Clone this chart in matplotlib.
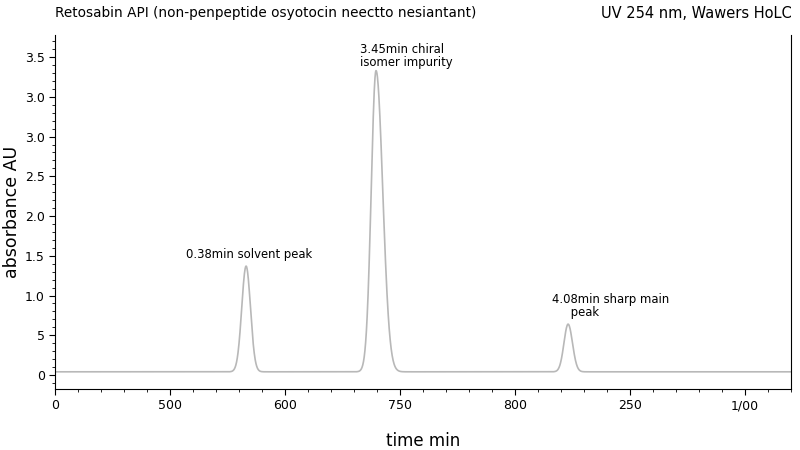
import numpy as np
from matplotlib import pyplot as plt
from matplotlib.ticker import MultipleLocator

# peak centres (axis units), heights (AU), left/right widths
peak_pos = [1.66, 2.79, 4.46]
peak_height = [1.33, 3.79, 0.60]
peak_sig_left = [0.038, 0.042, 0.036]
peak_sig_right = [0.038, 0.058, 0.038]
baseline = 0.04

peak_labels = ["0.38min solvent peak", "3.45min chiral\nisomer impurity",
               "4.08min sharp main\n     peak"]

xtick_pos = [0, 1, 2, 3, 4, 5, 6]
xtick_labels = ["0", "500", "600", "750", "800", "250", "1/00"]
ytick_pos = [0, 0.5, 1.0, 1.5, 2.0, 2.5, 3.0, 3.5, 4.0]
ytick_labels = ["0", "5", "1.0", "1.5", "2.0", "2.5", "3.0", "3.0", "3.5"]

t = np.linspace(0, 6.4, 3000)
y = np.full_like(t, baseline)
for p, h, sl, sr in zip(peak_pos, peak_height, peak_sig_left, peak_sig_right):
    s = np.where(t < p, sl, sr)
    y += h * np.exp(-0.5 * ((t - p) / s) ** 2)

fig = plt.figure(figsize=(8, 4.5), dpi=100)
ax = fig.add_axes([0.069, 0.1356, 0.92, 0.787])
ax.plot(t, y, color="#b8b8b8", lw=1.2)

ax.set_xlim(0, 6.4)
ax.set_ylim(-0.176, 4.28)
ax.spines["top"].set_visible(False)
ax.set_xticks(xtick_pos)
ax.set_xticklabels(xtick_labels)
ax.set_yticks(ytick_pos)
ax.set_yticklabels(ytick_labels)
ax.xaxis.set_minor_locator(MultipleLocator(0.2))
ax.yaxis.set_minor_locator(MultipleLocator(0.1))
ax.tick_params(which="major", length=4, labelsize=9)
ax.tick_params(which="minor", length=2)
ax.set_xlabel("time min", fontsize=12, labelpad=14)
ax.set_ylabel("absorbance AU", fontsize=12.5, labelpad=3)

ax.text(1.69, 1.43, peak_labels[0], ha="center", va="bottom", fontsize=8.4)
ax.text(2.65, 3.85, peak_labels[1], ha="left", va="bottom", fontsize=8.4,
        linespacing=1.0)
ax.text(4.32, 0.70, peak_labels[2], ha="left", va="bottom", fontsize=8.4,
        linespacing=1.0)

fig.text(0.069, 0.97, "Retosabin API (non-penpeptide osyotocin neectto nesiantant)",
         ha="left", va="center", fontsize=9.8)
fig.text(0.99, 0.97, "UV 254 nm, Wawers HoLC", ha="right", va="center",
         fontsize=10.5)

fig.savefig("out.png", dpi=100)
